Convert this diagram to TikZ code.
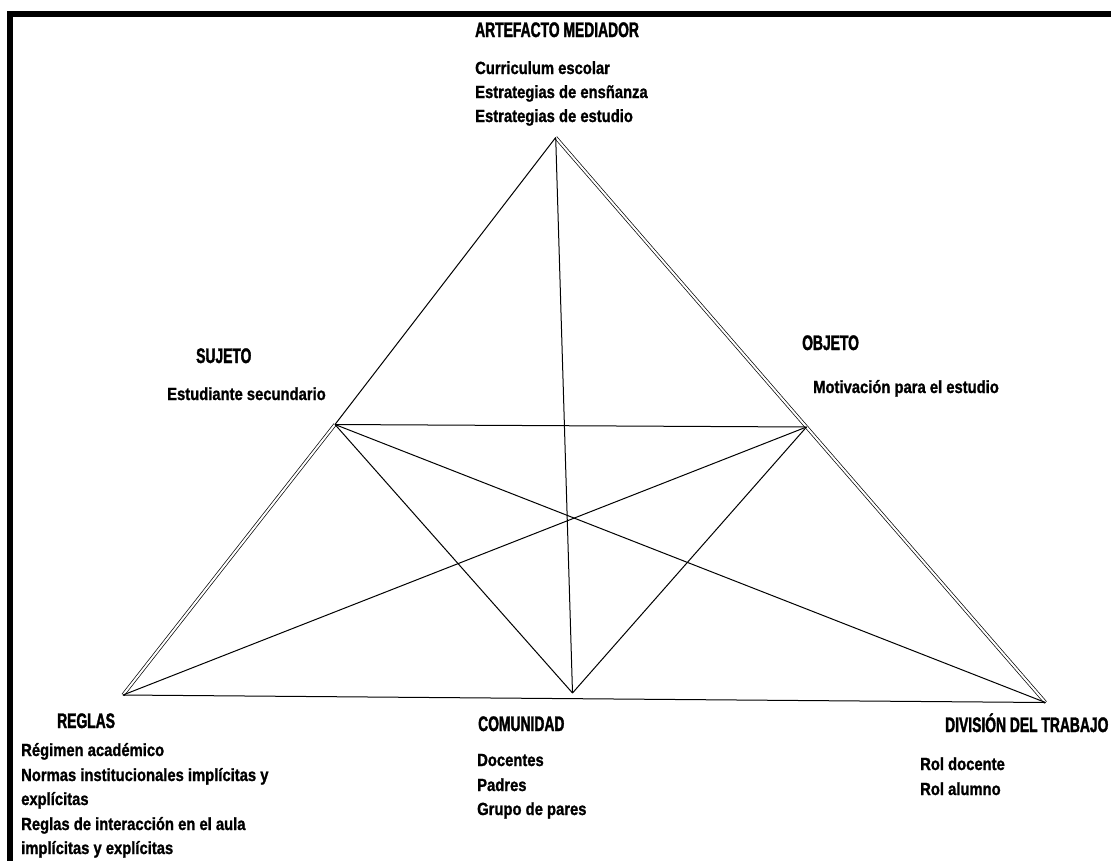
\documentclass[tikz,border=0pt]{standalone}
\usepackage{fontspec}
\setmainfont{Liberation Sans}
\newfontfamily\ttlfont{Liberation Sans}[FakeStretch=0.66, FakeBold=1.6]
\newfontfamily\bodyfont{Liberation Sans}[FakeStretch=0.84, FakeBold=1.2]
\tikzset{
  ttl/.style={anchor=base west, inner sep=0pt, font=\ttlfont\bfseries\fontsize{21}{24}\selectfont},
  body/.style={anchor=base west, inner sep=0pt, font=\bodyfont\bfseries\fontsize{17.6}{20}\selectfont},
  edge/.style={line width=1pt, black},
  dbl/.style={line width=0.7pt, double, double distance=2pt},
  frame/.style={line width=6pt, line join=miter}
}
\begin{document}
\begin{tikzpicture}[x=1pt, y=-1pt]
\useasboundingbox (0,0) rectangle (1111,860);
% frame
\draw[frame] (10.3,880) -- (10.3,14.2) -- (1130,14.2);
% vertices
\coordinate (A) at (555.7,137.5);
\coordinate (S) at (335,424.5);
\coordinate (O) at (806.5,427);
\coordinate (R) at (123,695);
\coordinate (C) at (572.5,693);
\coordinate (D) at (1045.5,702.5);
% double sides
\draw[dbl] (A) -- (O) -- (D);
\draw[dbl] (S) -- (R);
% single connectors
\draw[edge] (A) -- (S);
\draw[edge] (A) -- (C);
\draw[edge] (S) -- (O);
\draw[edge] (S) -- (D);
\draw[edge] (S) -- (C);
\draw[edge] (O) -- (R);
\draw[edge] (O) -- (C);
\draw[edge] (R) -- (D);
% texts: artefacto
\node[ttl] (artT) at (475,37) {ARTEFACTO MEDIADOR};
\node[body] (art1) at (475,74) {Curriculum escolar};
\node[body] (art2) at (475,98) {Estrategias de ensñanza};
\node[body] (art3) at (475,122) {Estrategias de estudio};
% sujeto
\node[ttl] (sujT) at (196,363) {SUJETO};
\node[body] (suj1) at (167,400) {Estudiante secundario};
% objeto
\node[ttl] (objT) at (802,350) {OBJETO};
\node[body] (obj1) at (813,393) {Motivación para el estudio};
% reglas
\node[ttl] (regT) at (57,728) {REGLAS};
\node[body] (reg1) at (21,756) {Régimen académico};
\node[body] (reg2) at (21,781) {Normas institucionales implícitas y};
\node[body] (reg3) at (21,805) {explícitas};
\node[body] (reg4) at (21,830) {Reglas de interacción en el aula};
\node[body] (reg5) at (21,854) {implícitas y explícitas};
% comunidad
\node[ttl] (comT) at (478,731) {COMUNIDAD};
\node[body] (com1) at (477,766) {Docentes};
\node[body] (com2) at (477,791) {Padres};
\node[body] (com3) at (477,815) {Grupo de pares};
% division del trabajo
\node[ttl] (divT) at (945,732) {DIVISIÓN DEL TRABAJO};
\node[body] (div1) at (920,770) {Rol docente};
\node[body] (div2) at (920,795) {Rol alumno};
\end{tikzpicture}
\end{document}
